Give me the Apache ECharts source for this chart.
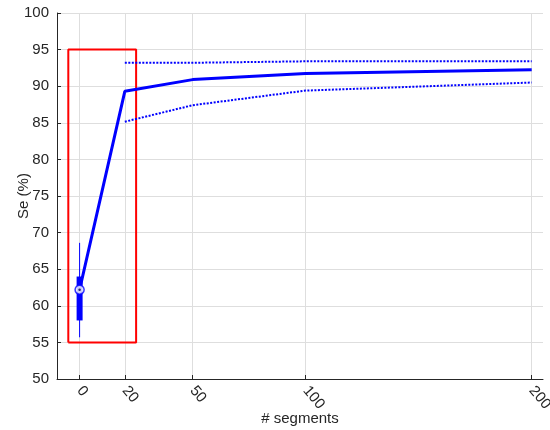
<!DOCTYPE html>
<html>
<head>
<meta charset="utf-8">
<script src="https://cdn.jsdelivr.net/npm/echarts@6/dist/echarts.min.js"></script>
<style>
  html, body { margin: 0; padding: 0; background: #fff; }
  #chart { width: 550px; height: 430px; }
</style>
</head>
<body>
<div id="chart"></div>
<script>
// data
const xTicks = [0, 20, 50, 100, 200]
const segs = [20, 50, 100, 200]
const seMean = [89.3, 90.9, 91.75, 92.25]
const seUpper = [93.2, 93.2, 93.4, 93.4]
const seLower = [85.15, 87.4, 89.4, 90.5]
// box plot at 0 segments
const boxX = 0
const boxMedian = 62.2
const boxQ = [58, 64]
const boxWhisker = [55.7, 68.6]
// highlight rectangle
const rectX = [-5, 25]
const rectY = [55, 95]

const textColor = '#262626'
const blue = '#0000ff'

const chart = echarts.init(document.getElementById('chart'))

const meanLine = [[boxX, boxMedian]].concat(segs.map((s, i) => [s, seMean[i]]))

const option = {
  animation: false,
  grid: { left: 57, right: 7, top: 13, bottom: 51, containLabel: false, outerBoundsMode: 'none' },
  xAxis: {
    type: 'value',
    min: -10,
    max: 205,
    name: '# segments',
    nameLocation: 'middle',
    nameGap: 32,
    nameMoveOverlap: false,
    nameTextStyle: { color: textColor, fontSize: 15, fontFamily: 'Liberation Sans' },
    axisLine: { onZero: false, lineStyle: { color: textColor, width: 1 } },
    axisTick: { inside: true, length: 4, customValues: xTicks, lineStyle: { color: textColor } },
    axisLabel: {
      customValues: xTicks,
      rotate: -50,
      color: textColor,
      fontSize: 15,
      fontFamily: 'Liberation Sans',
      margin: 9
    },
    splitLine: { show: true, lineStyle: { color: '#dedede', width: 1 } }
  },
  yAxis: {
    type: 'value',
    min: 50,
    max: 100,
    interval: 5,
    name: 'Se (%)',
    nameLocation: 'middle',
    nameGap: 26,
    nameMoveOverlap: false,
    nameTextStyle: { color: textColor, fontSize: 15, fontFamily: 'Liberation Sans' },
    axisLine: { show: true, onZero: false, lineStyle: { color: textColor, width: 1 } },
    axisTick: { show: true, inside: true, length: 4, lineStyle: { color: textColor } },
    axisLabel: { color: textColor, fontSize: 15, fontFamily: 'Liberation Sans', margin: 8 },
    splitLine: { show: true, lineStyle: { color: '#dedede', width: 1 } }
  },
  series: [
    {
      type: 'line',
      data: [[rectX[0], rectY[0]], [rectX[1], rectY[0]], [rectX[1], rectY[1]], [rectX[0], rectY[1]], [rectX[0], rectY[0]]],
      symbol: 'none',
      lineStyle: { color: '#ff0000', width: 2 },
      z: 2
    },
    {
      type: 'line',
      data: [[boxX, boxWhisker[0]], [boxX, boxWhisker[1]]],
      symbol: 'none',
      lineStyle: { color: blue, width: 1 },
      z: 3
    },
    {
      type: 'line',
      data: [[boxX, boxQ[0]], [boxX, boxQ[1]]],
      symbol: 'none',
      lineStyle: { color: blue, width: 6, cap: 'butt' },
      z: 3
    },
    {
      type: 'line',
      data: meanLine,
      symbol: 'none',
      lineStyle: { color: blue, width: 3 },
      z: 4
    },
    {
      type: 'line',
      data: segs.map((s, i) => [s, seUpper[i]]),
      symbol: 'none',
      lineStyle: { color: blue, width: 2, type: [2, 1.5] },
      z: 4
    },
    {
      type: 'line',
      data: segs.map((s, i) => [s, seLower[i]]),
      symbol: 'none',
      lineStyle: { color: blue, width: 2, type: [2, 1.5] },
      z: 4
    },
    {
      type: 'scatter',
      data: [[boxX, boxMedian]],
      symbol: 'circle',
      symbolSize: 9,
      itemStyle: { color: '#ffffff', borderColor: blue, borderWidth: 1.5 },
      z: 5
    },
    {
      type: 'scatter',
      data: [[boxX, boxMedian]],
      symbol: 'circle',
      symbolSize: 2.5,
      itemStyle: { color: '#000040' },
      z: 6
    }
  ]
}

chart.setOption(option)
</script>
</body>
</html>
